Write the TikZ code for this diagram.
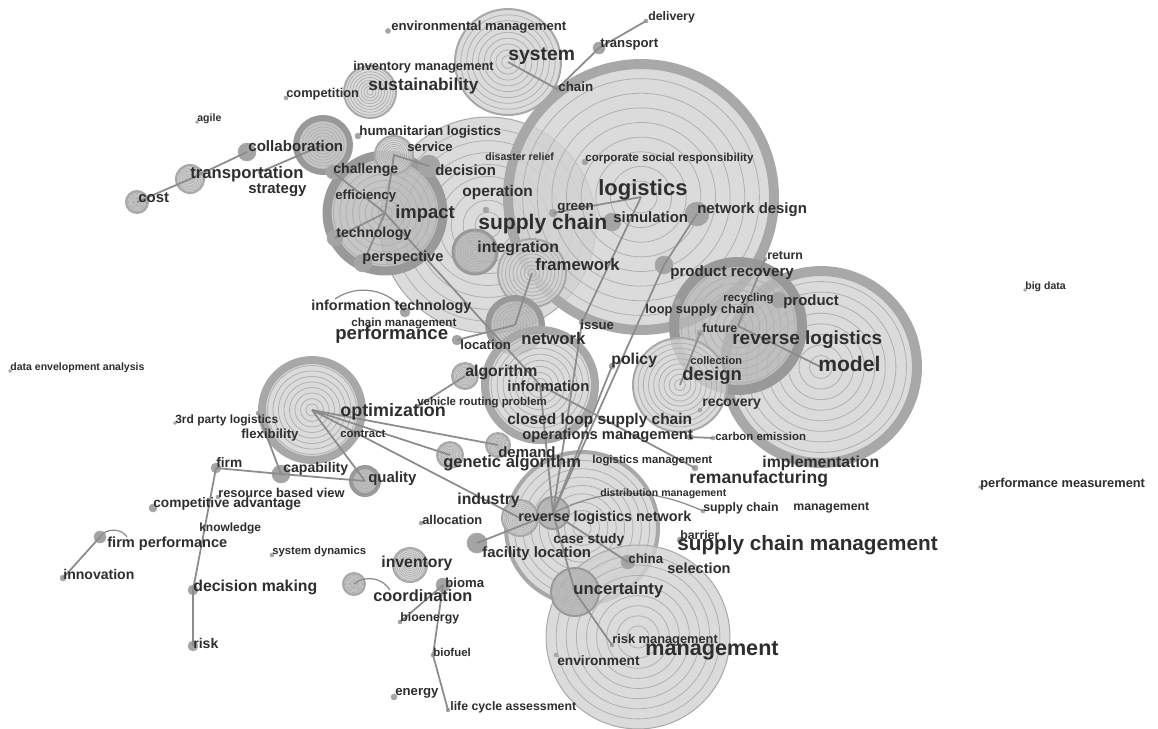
\documentclass[tikz,border=0pt]{standalone}
\usepackage{fontspec}
\setmainfont{Liberation Sans}
\definecolor{ringfill}{HTML}{D2D2D2}
\definecolor{ringdark}{HTML}{B8B8B8}
\definecolor{ringband}{HTML}{A8A8A8}
\definecolor{bandark}{HTML}{999999}
\definecolor{ringline}{HTML}{B0B0B0}
\definecolor{linkgray}{HTML}{8C8C8C}
\definecolor{dotgray}{HTML}{A4A4A4}
\definecolor{wordgray}{HTML}{2E2E2E}

\begin{document}
\begin{tikzpicture}[
    x=0.02cm, y=-0.02cm,
    % Node styles
    treering/.style={circle, inner sep=0pt, minimum size=#1*0.04cm, fill=ringfill, fill opacity=0.8,
        draw=ringband, line width=0.12cm,
        path picture={\foreach \f in {0.12,0.23,...,0.92}
            \draw[ringline, line width=0.45pt] (path picture bounding box.center) circle[radius=\f*#1*0.02cm];}},
    darkring/.style={treering=#1, fill=ringdark, draw=bandark},
    band/.style={line width=#1*0.02cm},
    spot/.style={circle, inner sep=0pt, minimum size=#1*0.04cm, fill=dotgray, draw=ringband, line width=0.3pt},
    word/.style={anchor=west, inner sep=0pt, text=wordgray, font=\bfseries\fontsize{#1}{#1}\selectfont},
    % Connector styles
    link_line/.style={draw=linkgray, line width=1pt},
    arc_line/.style={draw=linkgray, line width=0.7pt}
]

\fill[white] (0,0) rectangle (1158,728);
\useasboundingbox (0,0) rectangle (1158,728);

% --- Tree-ring clusters ---
\node[treering=108, band=1] (c_supply) at (488,225) {};
\node[treering=133, band=10] (c_logistics) at (641,197) {};
\node[treering=53, band=2] (c_system) at (508,62) {};
\node[treering=26, band=2] (c_sustain) at (370,92) {};
\node[darkring=58, band=9] (c_impact) at (385,213) {};
\node[darkring=27, band=6] (c_collab) at (323,145) {};
\node[treering=19, band=2] (c_service) at (394,155) {};
\node[darkring=22, band=3] (c_integ) at (475,252) {};
\node[treering=34, band=2] (c_frame) at (532,273) {};
\node[treering=96, band=10] (c_model) at (821,367) {};
\node[darkring=64, band=10] (c_revlog) at (738,326) {};
\node[treering=47, band=2] (c_design) at (680,385) {};
\node[darkring=27, band=6] (c_network) at (515,325) {};
\node[treering=55, band=8] (c_info) at (540,385) {};
\node[treering=50, band=8] (c_optim) at (312,410) {};
\node[treering=76, band=4] (c_rln) at (582,528) {};
\node[treering=92, band=1] (c_mgmt) at (638,637) {};
\node[darkring=24, band=2] (c_unc) at (575,592) {};
\node[treering=18, band=2] (c_indus) at (520,518) {};
\node[darkring=16, band=2] (c_rlndark) at (553,513) {};
\node[treering=13, band=2] (c_alg) at (465,376) {};
\node[treering=12, band=2] (c_demand) at (498,445) {};
\node[treering=13, band=2] (c_ga) at (450,455) {};
\node[darkring=14, band=4] (c_quality) at (365,481) {};
\node[treering=17, band=2] (c_inv) at (410,565) {};
\node[treering=11, band=2] (c_coord) at (354,584) {};
\node[treering=14, band=2] (c_transp) at (190,179) {};
\node[treering=11, band=2] (c_cost) at (137,202) {};

% --- Small keyword nodes ---
\node[spot=2.5] (s_envmgmt) at (388,31) {};
\node[spot=2] (s_delivery) at (646,21) {};
\node[spot=6] (s_transport) at (599,48) {};
\node[spot=4] (s_chain) at (557,89) {};
\node[spot=2] (s_competition) at (286,98) {};
\node[spot=1.5] (s_agile) at (197,122) {};
\node[spot=9] (s_collab) at (247,152) {};
\node[spot=2] (s_strategy) at (260,172) {};
\node[spot=3] (s_human) at (358,136) {};
\node[spot=3] (s_csr) at (585,162) {};
\node[spot=7] (s_challenge) at (333,172) {};
\node[spot=11] (s_decision) at (429,166) {};
\node[spot=3] (s_operation) at (486,210) {};
\node[spot=4] (s_green) at (553,213) {};
\node[spot=9] (s_simulation) at (612,222) {};
\node[spot=12] (s_netdesign) at (697,214) {};
\node[spot=8] (s_technology) at (335,238) {};
\node[spot=9] (s_perspective) at (363,263) {};
\node[spot=2] (s_return) at (765,259) {};
\node[spot=9] (s_prodrec) at (664,265) {};
\node[spot=1.5] (s_bigdata) at (1025,290) {};
\node[spot=8] (s_product) at (779,300) {};
\node[spot=5] (s_infotech) at (405,312) {};
\node[spot=3] (s_loop) at (678,302) {};
\node[spot=3] (s_issue) at (582,322) {};
\node[spot=3] (s_future) at (700,333) {};
\node[spot=5] (s_location) at (457,340) {};
\node[spot=3] (s_policy) at (612,366) {};
\node[spot=1.5] (s_dea) at (10,371) {};
\node[spot=2] (s_vrp) at (418,406) {};
\node[spot=2] (s_recovery) at (700,410) {};
\node[spot=1.5] (s_3pl) at (175,423) {};
\node[spot=2] (s_flex) at (258,413) {};
\node[spot=3] (s_opsmgmt) at (690,437) {};
\node[spot=2] (s_carbon) at (713,438) {};
\node[spot=5] (s_firm) at (216,468) {};
\node[spot=9] (s_capability) at (281,474) {};
\node[spot=3] (s_reman) at (695,468) {};
\node[spot=1.5] (s_perfmeas) at (980,487) {};
\node[spot=2] (s_rbv) at (218,497) {};
\node[spot=4] (s_compadv) at (153,508) {};
\node[spot=2] (s_scsmall) at (703,511) {};
\node[spot=2] (s_allocation) at (421,523) {};
\node[spot=3] (s_barrier) at (680,540) {};
\node[spot=6] (s_firmperf) at (100,537) {};
\node[spot=2] (s_sysdyn) at (272,555) {};
\node[spot=10] (s_facility) at (477,543) {};
\node[spot=7] (s_china) at (628,562) {};
\node[spot=3] (s_innovation) at (63,578) {};
\node[spot=5] (s_decmaking) at (193,590) {};
\node[spot=7] (s_bioma) at (443,585) {};
\node[spot=2] (s_bioenergy) at (400,622) {};
\node[spot=2] (s_riskmgmt) at (612,645) {};
\node[spot=5] (s_risk) at (193,646) {};
\node[spot=2] (s_biofuel) at (433,655) {};
\node[spot=2] (s_environment) at (556,655) {};
\node[spot=3] (s_energy) at (394,697) {};
\node[spot=2] (s_lca) at (448,710) {};

% --- Co-occurrence links ---
\draw[link_line] (c_cost.center) -- (c_transp.center) -- (s_collab.center);
\draw[link_line] (s_strategy.center) -- (c_collab.center);
\draw[link_line] (c_system.center) -- (s_chain.center) -- (s_transport.center) -- (s_delivery.center);
\draw[link_line] (c_impact.center) -- (s_challenge.center);
\draw[link_line] (c_impact.center) -- (s_technology.center);
\draw[link_line] (c_impact.center) -- (s_perspective.center);
\draw[link_line] (c_impact.center) -- (c_service.center) -- (s_decision.center);
\draw[link_line] (c_impact.center) -- (c_info.center);
\draw[link_line] (s_green.center) -- (c_logistics.center);
\draw[link_line] (c_logistics.center) -- (s_issue.center) -- (c_rlndark.center);
\draw[link_line] (s_netdesign.center) -- (s_prodrec.center) -- (c_rlndark.center);
\draw[link_line] (s_policy.center) -- (c_rlndark.center);
\draw[link_line] (c_frame.center) -- (c_network.center);
\draw[link_line] (s_location.center) -- (c_network.center);
\draw[link_line] (c_info.center) -- (c_rlndark.center);
\draw[link_line] (c_info.center) -- (s_reman.center);
\draw[link_line] (c_alg.center) -- (s_vrp.center);
\draw[link_line] (c_optim.center) -- (c_demand.center);
\draw[link_line] (c_optim.center) -- (c_ga.center);
\draw[link_line] (c_optim.center) -- (c_indus.center);
\draw[link_line] (c_optim.center) -- (c_quality.center);
\draw[link_line] (s_flex.center) -- (s_capability.center);
\draw[link_line] (s_firm.center) -- (s_capability.center) -- (c_quality.center);
\draw[link_line] (s_firm.center) -- (s_decmaking.center) -- (s_risk.center);
\draw[link_line] (s_firmperf.center) -- (s_innovation.center);
\draw[link_line] (s_bioma.center) -- (s_bioenergy.center);
\draw[link_line] (s_bioma.center) -- (s_biofuel.center) -- (s_lca.center);
\draw[link_line] (s_facility.center) -- (c_rlndark.center);
\draw[link_line] (c_rlndark.center) -- (c_unc.center) -- (s_riskmgmt.center);
\draw[link_line] (c_rlndark.center) -- (s_china.center);
\draw[link_line] (c_revlog.center) -- (c_model.center);
\draw[link_line] (s_return.center) -- (c_revlog.center);
\draw[link_line] (s_future.center) -- (c_design.center);
\draw[link_line] (s_opsmgmt.center) -- (s_carbon.center);

% --- Burst arcs ---
\coordinate (e_infotech) at (335,299);
\coordinate (e_coord) at (390,590);
\coordinate (e_firmperf) at (127,537);
\draw[arc_line] (s_infotech.center) to[bend right=45] (e_infotech);
\draw[arc_line] (c_coord.center) to[bend left=50] (e_coord);
\draw[arc_line] (s_firmperf.center) to[bend left=60] (e_firmperf);
\draw[arc_line] (c_rlndark.center) to[bend left=25] (s_scsmall.center);

% --- Keyword labels ---
\node[word=7.5] (w_envmgmt) at (391,27) {environmental management};
\node[word=7] (w_delivery) at (648,17) {delivery};
\node[word=7.5] (w_transport) at (600,45) {transport};
\node[word=11] (w_system) at (508,56) {system};
\node[word=7.3] (w_invmgmt) at (353,67) {inventory management};
\node[word=9.8] (w_sustain) at (368,86) {sustainability};
\node[word=7.6] (w_chain) at (558,87) {chain};
\node[word=7.3] (w_competition) at (286,94) {competition};
\node[word=6] (w_agile) at (197,119) {agile};
\node[word=8.6] (w_collab) at (248,146) {collaboration};
\node[word=7.6] (w_human) at (359,132) {humanitarian logistics};
\node[word=7.5] (w_service) at (407,147) {service};
\node[word=6] (w_disaster) at (485,157) {disaster relief};
\node[word=6.6] (w_csr) at (585,158) {corporate social responsibility};
\node[word=8] (w_challenge) at (333,170) {challenge};
\node[word=8.5] (w_decision) at (435,170) {decision};
\node[word=9.5] (w_transp) at (190,174) {transportation};
\node[word=8.5] (w_strategy) at (248,190) {strategy};
\node[word=8.5] (w_cost) at (138,198) {cost};
\node[word=12.5] (w_logistics) at (598,190) {logistics};
\node[word=8.8] (w_operation) at (462,192) {operation};
\node[word=7.5] (w_efficiency) at (335,196) {efficiency};
\node[word=8.5] (w_netdesign) at (697,210) {network design};
\node[word=7.6] (w_green) at (557,208) {green};
\node[word=8.5] (w_simulation) at (613,217) {simulation};
\node[word=10.5] (w_impact) at (395,214) {impact};
\node[word=12] (w_supply) at (478,224) {supply chain};
\node[word=8] (w_technology) at (336,234) {technology};
\node[word=9] (w_integ) at (477,248) {integration};
\node[word=9.5] (w_frame) at (535,265) {framework};
\node[word=8.3] (w_perspective) at (362,258) {perspective};
\node[word=7] (w_return) at (767,256) {return};
\node[word=8.6] (w_prodrec) at (670,273) {product recovery};
\node[word=6] (w_bigdata) at (1025,287) {big data};
\node[word=6.5] (w_recycling) at (723,299) {recycling};
\node[word=8.5] (w_product) at (783,302) {product};
\node[word=8.2] (w_infotech) at (311,307) {information technology};
\node[word=7.3] (w_loop) at (645,310) {loop supply chain};
\node[word=6.6] (w_chainmgmt) at (351,324) {chain management};
\node[word=7.5] (w_issue) at (580,325) {issue};
\node[word=7] (w_future) at (702,328) {future};
\node[word=10.6] (w_performance) at (335,335) {performance};
\node[word=9.5] (w_network) at (521,339) {network};
\node[word=10.8] (w_revlog) at (732,340) {reverse logistics};
\node[word=7.5] (w_location) at (460,345) {location};
\node[word=9] (w_policy) at (611,360) {policy};
\node[word=6.3] (w_collection) at (690,361) {collection};
\node[word=12] (w_model) at (818,364) {model};
\node[word=6] (w_dea) at (10,368) {data envelopment analysis};
\node[word=10.5] (w_design) at (682,376) {design};
\node[word=9] (w_alg) at (465,372) {algorithm};
\node[word=8.5] (w_info) at (507,386) {information};
\node[word=6.5] (w_vrp) at (417,403) {vehicle routing problem};
\node[word=8] (w_recovery) at (702,404) {recovery};
\node[word=10.2] (w_optim) at (340,412) {optimization};
\node[word=6.8] (w_3pl) at (175,420) {3rd party logistics};
\node[word=8.8] (w_closed) at (507,420) {closed loop supply chain};
\node[word=7.5] (w_flex) at (241,435) {flexibility};
\node[word=6.5] (w_contract) at (340,434) {contract};
\node[word=8.4] (w_opsmgmt) at (522,436) {operations management};
\node[word=6.5] (w_carbon) at (715,436) {carbon emission};
\node[word=8.5] (w_demand) at (498,452) {demand};
\node[word=9.4] (w_ga) at (443,463) {genetic algorithm};
\node[word=6.5] (w_logmgmt) at (592,461) {logistics management};
\node[word=9] (w_implement) at (762,463) {implementation};
\node[word=7.8] (w_firm) at (216,463) {firm};
\node[word=8] (w_capability) at (283,469) {capability};
\node[word=8.5] (w_quality) at (368,479) {quality};
\node[word=10] (w_reman) at (689,479) {remanufacturing};
\node[word=7.3] (w_perfmeas) at (980,484) {performance measurement};
\node[word=7.3] (w_rbv) at (218,493) {resource based view};
\node[word=7.8] (w_compadv) at (153,504) {competitive advantage};
\node[word=6] (w_distmgmt) at (600,494) {distribution management};
\node[word=9] (w_industry) at (457,500) {industry};
\node[word=7] (w_scsmall) at (703,508) {supply chain};
\node[word=7] (w_mgmtsmall) at (793,508) {management};
\node[word=8.2] (w_rln) at (518,518) {reverse logistics network};
\node[word=7.3] (w_allocation) at (422,520) {allocation};
\node[word=6.8] (w_knowledge) at (199,528) {knowledge};
\node[word=7] (w_barrier) at (680,535) {barrier};
\node[word=7.8] (w_casestudy) at (553,540) {case study};
\node[word=8.3] (w_firmperf) at (107,544) {firm performance};
\node[word=11.8] (w_scm) at (677,545) {supply chain management};
\node[word=6.4] (w_sysdyn) at (272,552) {system dynamics};
\node[word=8.5] (w_facility) at (482,554) {facility location};
\node[word=7.6] (w_china) at (628,559) {china};
\node[word=9] (w_inv) at (381,563) {inventory};
\node[word=8.3] (w_selection) at (667,568) {selection};
\node[word=8] (w_innovation) at (63,574) {innovation};
\node[word=9] (w_decmaking) at (193,587) {decision making};
\node[word=7.5] (w_bioma) at (445,583) {bioma};
\node[word=9.5] (w_unc) at (573,590) {uncertainty};
\node[word=9.3] (w_coord) at (373,596) {coordination};
\node[word=7] (w_bioenergy) at (400,618) {bioenergy};
\node[word=7.3] (w_riskmgmt) at (612,640) {risk management};
\node[word=8] (w_risk) at (193,643) {risk};
\node[word=6.5] (w_biofuel) at (433,652) {biofuel};
\node[word=12.3] (w_mgmt) at (645,651) {management};
\node[word=7.8] (w_environment) at (557,661) {environment};
\node[word=7.5] (w_energy) at (395,693) {energy};
\node[word=7] (w_lca) at (450,707) {life cycle assessment};

\end{tikzpicture}
\end{document}
